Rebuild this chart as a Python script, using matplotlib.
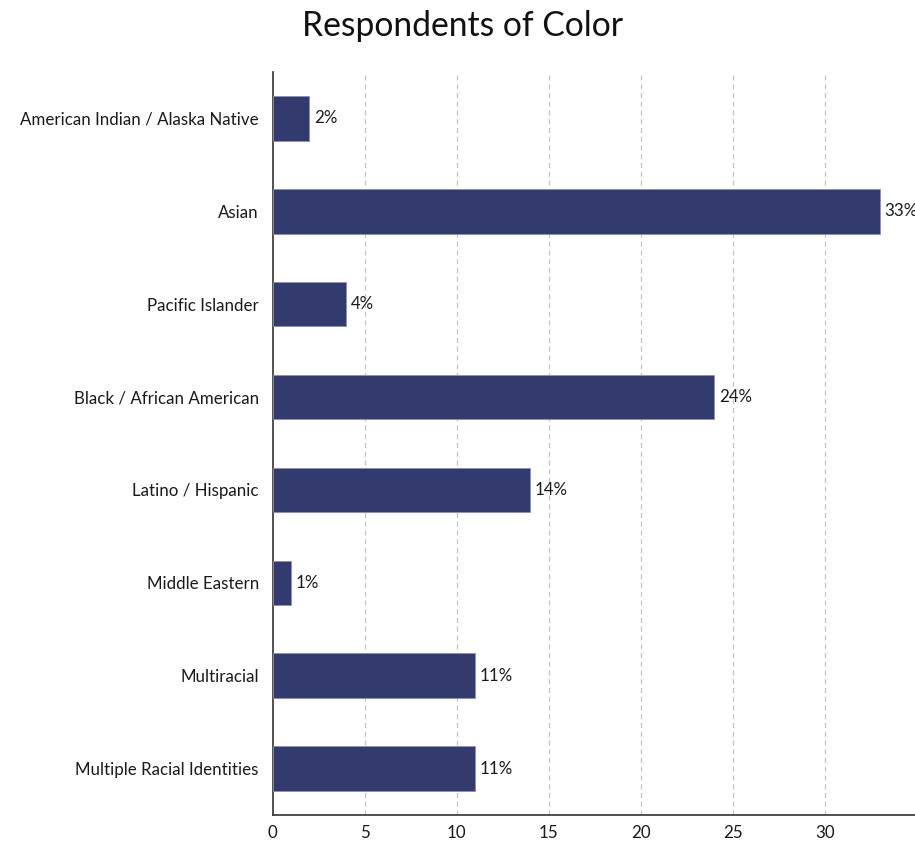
import matplotlib
matplotlib.use("Agg")
import matplotlib.pyplot as plt

categories = [
    "American Indian / Alaska Native",
    "Asian",
    "Pacific Islander",
    "Black / African American",
    "Latino / Hispanic",
    "Middle Eastern",
    "Multiracial",
    "Multiple Racial Identities",
]
values = [2, 33, 4, 24, 14, 1, 11, 11]
x_ticks = [0, 5, 10, 15, 20, 25, 30]

plt.rcParams["font.family"] = ["Lato", "DejaVu Sans"]

fig = plt.figure(figsize=(9.15, 8.46), dpi=100)
ax = fig.add_axes([0.298, 0.0366, 0.724, 0.8784])

y_pos = list(range(len(categories)))
ax.barh(y_pos, values, height=0.48, color="#323a6e", edgecolor="#8a90b8", linewidth=0.6, zorder=3)

# etiquetas de porcentaje al final de cada barra
for y, v in zip(y_pos, values):
    ax.text(v + 0.25, y, f"{v}%", va="center", ha="left", fontsize=12.2, color="#1a1a1a")

ax.set_yticks(y_pos)
ax.set_yticklabels(categories, fontsize=12.2, color="#1a1a1a")
ax.set_ylim(len(categories) - 0.5, -0.5)
ax.set_xlim(0, 36)
ax.set_xticks(x_ticks)
ax.set_xticklabels([str(t) for t in x_ticks], fontsize=12.2, color="#1a1a1a")
ax.tick_params(axis="y", length=0, pad=10)
ax.tick_params(axis="x", length=0, pad=7)

for t in x_ticks[1:]:
    ax.axvline(t, color="#c4c4c4", linestyle=(0, (4, 3)), linewidth=0.9, zorder=1)

for side in ["top", "right"]:
    ax.spines[side].set_visible(False)
for side in ["left", "bottom"]:
    ax.spines[side].set_color("#333333")
    ax.spines[side].set_linewidth(1.2)

fig.suptitle("Respondents of Color", fontsize=24.2, x=0.505, y=0.988, color="#111111")

fig.savefig("out.png", dpi=100)
